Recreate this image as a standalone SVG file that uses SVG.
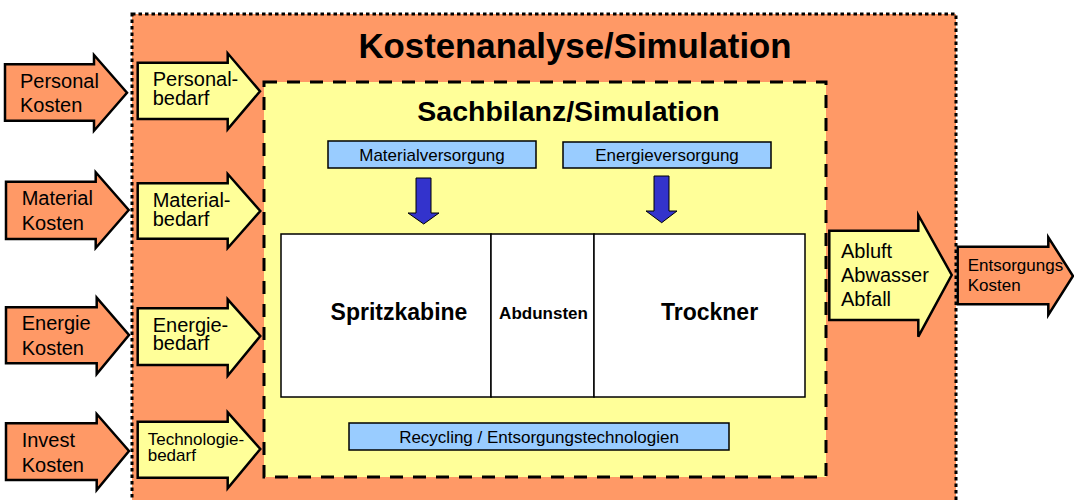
<svg xmlns="http://www.w3.org/2000/svg" width="1074" height="500" viewBox="0 0 1074 500">
<style>
  text { font-family: "Liberation Sans", Arial, sans-serif; fill: #000; }
  .arrowO { fill: #FF9966; stroke: #000; stroke-width: 2.5; stroke-linejoin: miter; }
  .arrowY { fill: #FFFF99; stroke: #000; stroke-width: 2.5; stroke-linejoin: miter; }
  .box { fill: #FFFFFF; stroke: #000; stroke-width: 1.5; }
  .bluebox { fill: #99CCFF; stroke: #000; stroke-width: 1.5; }
  .bluearrow { fill: #3333CC; stroke: #000; stroke-width: 1; }
  .t20 { font-size: 20px; }
  .t17 { font-size: 17px; }
</style>
<rect width="1074" height="500" fill="#FFFFFF"/>
<g id="kostenanalyse">
  <rect x="132" y="14" width="824" height="500" fill="#FF9966" stroke="#000" stroke-width="3" stroke-dasharray="3.5 3"/>
  <text x="575" y="58" font-size="34.8" font-weight="bold" text-anchor="middle">Kostenanalyse/Simulation</text>
</g>
<g id="sachbilanz">
  <rect x="264" y="82" width="562" height="395" fill="#FFFF99" stroke="#000" stroke-width="3" stroke-dasharray="13 10"/>
  <text x="568.5" y="121" font-size="28.5" font-weight="bold" text-anchor="middle">Sachbilanz/Simulation</text>
</g>
<g id="materialversorgung">
  <rect class="bluebox" x="328" y="141" width="208" height="27"/>
  <text class="t17" x="432" y="161" text-anchor="middle">Materialversorgung</text>
</g>
<g id="energieversorgung">
  <rect class="bluebox" x="563" y="142" width="208" height="26"/>
  <text class="t17" x="667" y="161" text-anchor="middle">Energieversorgung</text>
</g>
<g id="spritzkabine">
  <rect class="box" x="281" y="234" width="210" height="163"/>
  <text x="399" y="320" font-size="23" font-weight="bold" text-anchor="middle">Spritzkabine</text>
</g>
<g id="abdunsten">
  <rect class="box" x="491" y="234" width="103" height="163"/>
  <text x="543.5" y="319" font-size="17" font-weight="bold" text-anchor="middle">Abdunsten</text>
</g>
<g id="trockner">
  <rect class="box" x="594" y="234" width="211" height="163"/>
  <text x="709.5" y="320" font-size="23" font-weight="bold" text-anchor="middle">Trockner</text>
</g>
<g id="recycling">
  <rect class="bluebox" x="349" y="423" width="380" height="27"/>
  <text class="t17" x="539" y="443" text-anchor="middle">Recycling / Entsorgungstechnologien</text>
</g>
<g id="personal-kosten">
  <path class="arrowO" d="M5,64.3 L94,64.3 L94,55 L127,92.7 L94,130.7 L94,120.7 L5,120.7 Z"/>
  <text class="t20" x="20" y="88">Personal</text>
  <text class="t20" x="20" y="112">Kosten</text>
</g>
<g id="personalbedarf">
  <path class="arrowY" d="M137.7,62.7 L227.7,62.7 L227.7,53.3 L260,91.3 L227.7,129.3 L227.7,119 L137.7,119 Z"/>
  <text class="t20" x="152.7" y="86">Personal-</text>
  <text class="t20" x="152.7" y="105">bedarf</text>
</g>
<g id="material-kosten">
  <path class="arrowO" d="M6,181.7 L95.7,181.7 L95.7,172.3 L128.7,210 L95.7,248 L95.7,239 L6,239 Z"/>
  <text class="t20" x="21.7" y="205">Material</text>
  <text class="t20" x="21.7" y="230">Kosten</text>
</g>
<g id="materialbedarf">
  <path class="arrowY" d="M137.7,183.3 L227.7,183.3 L227.7,174 L260.3,211 L227.7,248 L227.7,238.7 L137.7,238.7 Z"/>
  <text class="t20" x="152.7" y="207.3">Material-</text>
  <text class="t20" x="152.7" y="226">bedarf</text>
</g>
<g id="energie-kosten">
  <path class="arrowO" d="M6,307.3 L96.7,307.3 L96.7,297.7 L129,335 L96.7,374 L96.7,363.3 L6,363.3 Z"/>
  <text class="t20" x="21.7" y="330">Energie</text>
  <text class="t20" x="21.7" y="355">Kosten</text>
</g>
<g id="energiebedarf">
  <path class="arrowY" d="M137.7,308.3 L227.7,308.3 L227.7,299.3 L260.3,336 L227.7,375.7 L227.7,365 L137.7,365 Z"/>
  <text class="t20" x="152.7" y="331.7">Energie-</text>
  <text class="t20" x="152.7" y="350">bedarf</text>
</g>
<g id="invest-kosten">
  <path class="arrowO" d="M6,423.3 L96.7,423.3 L96.7,414 L129,451 L96.7,490 L96.7,480 L6,480 Z"/>
  <text class="t20" x="21.7" y="446.7">Invest</text>
  <text class="t20" x="21.7" y="471.7">Kosten</text>
</g>
<g id="technologiebedarf">
  <path class="arrowY" d="M137.7,421.7 L227.7,421.7 L227.7,412.3 L260.3,449 L227.7,488.3 L227.7,477.7 L137.7,477.7 Z"/>
  <text class="t17" x="147.7" y="445">Technologie-</text>
  <text class="t17" x="147.7" y="461">bedarf</text>
</g>
<g id="abluft">
  <path class="arrowY" d="M829.3,230.7 L918.3,230.7 L918.3,215 L951.7,275 L918.3,336.7 L918.3,320 L829.3,320 Z"/>
  <text class="t20" x="841" y="258.3">Abluft</text>
  <text class="t20" x="841" y="281.7">Abwasser</text>
  <text class="t20" x="841" y="306">Abfall</text>
</g>
<g id="entsorgungs-kosten">
  <path class="arrowO" d="M957.7,246.7 L1048.3,246.7 L1048.3,237.3 L1073,276 L1048.3,315 L1048.3,304.3 L957.7,304.3 Z"/>
  <text class="t17" x="967.7" y="271">Entsorgungs</text>
  <text class="t17" x="967.7" y="290.7">Kosten</text>
</g>
<g id="connectors">
  <path class="bluearrow" d="M416,178 L431,178 L431,213 L439,213 L423.7,224 L408,213 L416,213 Z"/>
  <path class="bluearrow" d="M654,176 L669,176 L669,211 L677,211 L661.7,222.7 L646,211 L654,211 Z"/>
</g>
</svg>
